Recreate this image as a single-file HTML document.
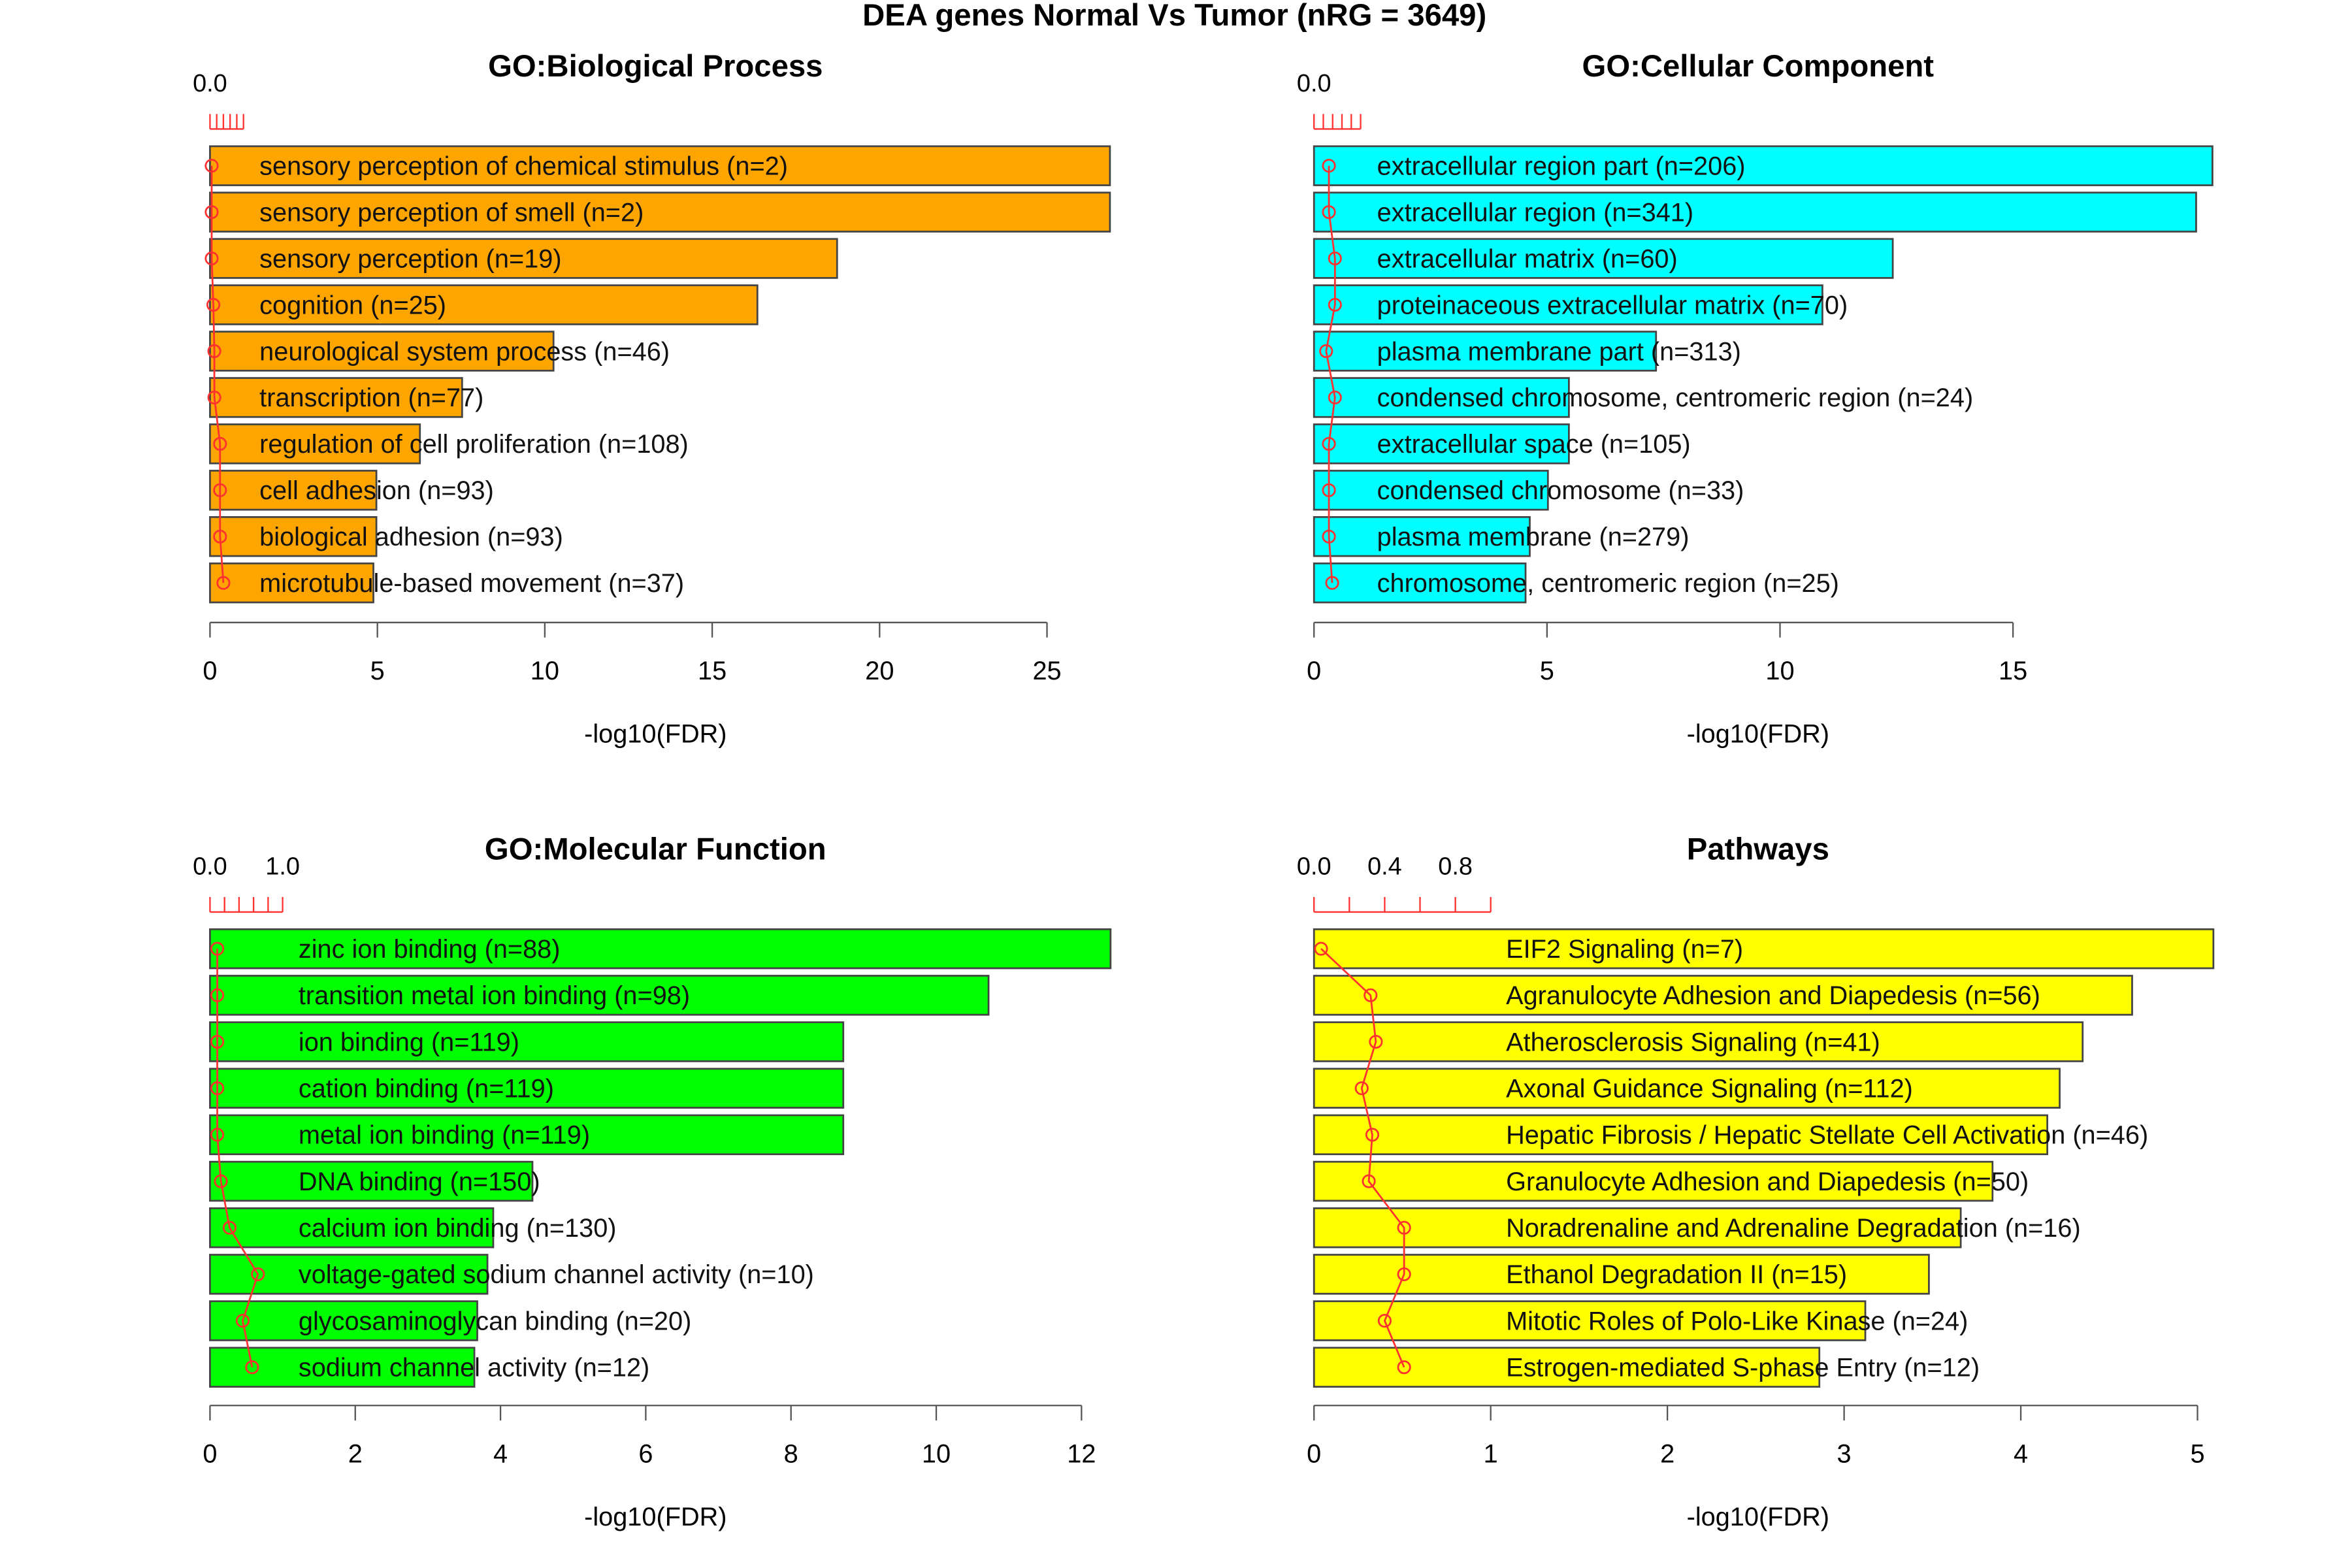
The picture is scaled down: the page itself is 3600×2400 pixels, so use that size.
<!DOCTYPE html>
<html><head><meta charset="utf-8"><style>
html,body{margin:0;padding:0;background:#fff;}
svg{display:block;font-family:"Liberation Sans",sans-serif;}
</style></head><body>
<svg id="chart" width="3600" height="2400" viewBox="0 0 1568 1045.33" preserveAspectRatio="none" xmlns="http://www.w3.org/2000/svg">
<text x="783" y="17" text-anchor="middle" font-size="20.6" font-weight="bold">DEA genes Normal Vs Tumor (nRG = 3649)</text>
</svg>
<script>
const bpLabels = ["sensory perception of chemical stimulus (n=2)","sensory perception of smell (n=2)","sensory perception (n=19)","cognition (n=25)","neurological system process (n=46)","transcription (n=77)","regulation of cell proliferation (n=108)","cell adhesion (n=93)","biological adhesion (n=93)","microtubule-based movement (n=37)"];
const bpValues = [26.88,26.88,18.73,16.35,10.26,7.53,6.27,4.97,4.97,4.88];
const bpFdr = [0.05,0.05,0.05,0.1,0.13,0.13,0.3,0.3,0.3,0.4];
const bpTicks = [0,5,10,15,20,25];
const bpRedLabels = ["0.0"];

const ccLabels = ["extracellular region part (n=206)","extracellular region (n=341)","extracellular matrix (n=60)","proteinaceous extracellular matrix (n=70)","plasma membrane part (n=313)","condensed chromosome, centromeric region (n=24)","extracellular space (n=105)","condensed chromosome (n=33)","plasma membrane (n=279)","chromosome, centromeric region (n=25)"];
const ccValues = [19.28,18.93,12.42,10.91,7.34,5.47,5.47,5.02,4.63,4.54];
const ccFdr = [0.32,0.32,0.45,0.45,0.26,0.45,0.32,0.32,0.32,0.39];
const ccTicks = [0,5,10,15];
const ccRedLabels = ["0.0"];

const mfLabels = ["zinc ion binding (n=88)","transition metal ion binding (n=98)","ion binding (n=119)","cation binding (n=119)","metal ion binding (n=119)","DNA binding (n=150)","calcium ion binding (n=130)","voltage-gated sodium channel activity (n=10)","glycosaminoglycan binding (n=20)","sodium channel activity (n=12)"];
const mfValues = [12.4,10.72,8.72,8.72,8.72,4.44,3.9,3.82,3.68,3.64];
const mfFdr = [0.1,0.1,0.1,0.1,0.1,0.15,0.27,0.66,0.45,0.58];
const mfTicks = [0,2,4,6,8,10,12];
const mfRedLabels = ["0.0","1.0"];

const pwLabels = ["EIF2 Signaling (n=7)","Agranulocyte Adhesion and Diapedesis (n=56)","Atherosclerosis Signaling (n=41)","Axonal Guidance Signaling (n=112)","Hepatic Fibrosis / Hepatic Stellate Cell Activation (n=46)","Granulocyte Adhesion and Diapedesis (n=50)","Noradrenaline and Adrenaline Degradation (n=16)","Ethanol Degradation II (n=15)","Mitotic Roles of Polo-Like Kinase (n=24)","Estrogen-mediated S-phase Entry (n=12)"];
const pwValues = [5.09,4.63,4.35,4.22,4.15,3.84,3.66,3.48,3.12,2.86];
const pwFdr = [0.04,0.32,0.35,0.27,0.33,0.31,0.51,0.51,0.4,0.51];
const pwTicks = [0,1,2,3,4,5];
const pwRedLabels = ["0.0","0.4","0.8"];

const NS="http://www.w3.org/2000/svg";
const svg=document.getElementById('chart');
function mk(tag,attrs,parent){const e=document.createElementNS(NS,tag);for(const k in attrs)e.setAttribute(k,attrs[k]);(parent||svg).appendChild(e);return e;}

function panel(cfg,labels,values,fdr,ticks,redLabels){
  const g=mk('g',{});
  
  
  const x0=cfg.x0, px=(cfg.xEnd-cfg.x0)/ticks[ticks.length-1];
  const xs=v=>x0+v*px;
  const ys=i=>cfg.row0+i*cfg.rowStep;
  const t=mk('text',{x:cfg.titleX,y:cfg.titleY,'text-anchor':'middle','font-size':20.6,'font-weight':'bold'},g);
  t.textContent=cfg.title;
  
  
  values.forEach((v,i)=>{
    const r=mk('rect',{x:xs(0),y:ys(i)-13,width:xs(v)-xs(0),height:26,fill:cfg.color,stroke:'#444','stroke-width':1.2},g);
    
    
  });
  labels.forEach((l,i)=>{
    const tx=mk('text',{x:cfg.labelX,y:ys(i)+6,'font-size':17.3,fill:'#111'},g);
    tx.textContent=l;
    
    
  });
  const pts=fdr.map((f,i)=>xs(f)+','+ys(i)).join(' ');
  const pl=mk('polyline',{points:pts,fill:'none',stroke:'#ff3030','stroke-width':1.2},g);
  
  
  fdr.forEach((f,i)=>{
    const c=mk('circle',{cx:xs(f),cy:ys(i),r:4,fill:'none',stroke:'#ff3030','stroke-width':1.2},g);
    
    
  });
  const ra=mk('line',{x1:xs(0),x2:xs(1),y1:cfg.redY,y2:cfg.redY,stroke:'#ff3030','stroke-width':1},g);
  
  
  for(let k=0;k<=5;k++){
    mk('line',{x1:xs(k*0.2),x2:xs(k*0.2),y1:cfg.redY,y2:cfg.redY-10,stroke:'#ff3030','stroke-width':1},g);
  }
  redLabels.forEach(l=>{
    const tl=mk('text',{x:xs(parseFloat(l)),y:cfg.redY-25,'text-anchor':'middle','font-size':16.5},g);
    tl.textContent=l;
    
    
  });
  const ax=mk('line',{x1:xs(ticks[0]),x2:xs(ticks[ticks.length-1]),y1:cfg.axisY,y2:cfg.axisY,stroke:'#555','stroke-width':1},g);
  
  
  ticks.forEach(tk=>{
    mk('line',{x1:xs(tk),x2:xs(tk),y1:cfg.axisY,y2:cfg.axisY+10,stroke:'#555','stroke-width':1},g);
    const tl=mk('text',{x:xs(tk),y:cfg.axisY+38,'text-anchor':'middle','font-size':17.3},g);
    tl.textContent=String(tk);
    
    
  });
  const xl=mk('text',{x:cfg.titleX,y:cfg.axisY+80,'text-anchor':'middle','font-size':17.3},g);
  xl.textContent='-log10(FDR)';
  
  
}
panel({name:'panel-biological-process',title:'GO:Biological Process',x0:140,xEnd:698,row0:110.5,rowStep:30.9,color:'#FFA500',labelX:173,titleX:437,titleY:51,redY:86,axisY:415},bpLabels,bpValues,bpFdr,bpTicks,bpRedLabels);
panel({name:'panel-cellular-component',title:'GO:Cellular Component',x0:876,xEnd:1342,row0:110.5,rowStep:30.9,color:'#00FFFF',labelX:918,titleX:1172,titleY:51,redY:86,axisY:415},ccLabels,ccValues,ccFdr,ccTicks,ccRedLabels);
panel({name:'panel-molecular-function',title:'GO:Molecular Function',x0:140,xEnd:721,row0:632.5,rowStep:31,color:'#00FF00',labelX:199,titleX:437,titleY:573,redY:608,axisY:937},mfLabels,mfValues,mfFdr,mfTicks,mfRedLabels);
panel({name:'panel-pathways',title:'Pathways',x0:876,xEnd:1465,row0:632.5,rowStep:31,color:'#FFFF00',labelX:1004,titleX:1172,titleY:573,redY:608,axisY:937},pwLabels,pwValues,pwFdr,pwTicks,pwRedLabels);
</script>
</body></html>
